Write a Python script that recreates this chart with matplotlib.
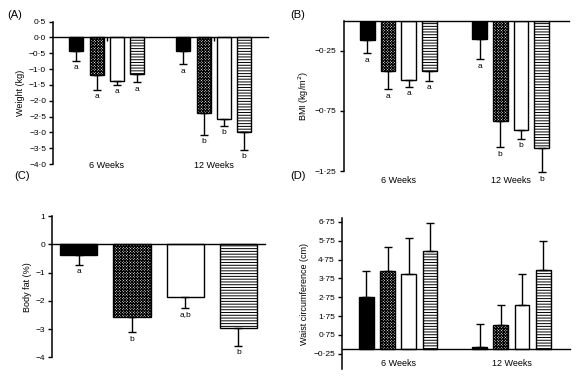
import numpy as np
import matplotlib
matplotlib.use("Agg")
import matplotlib.pyplot as plt

plt.rcParams['font.family'] = ['Liberation Sans', 'DejaVu Sans']
plt.rcParams['hatch.linewidth'] = 0.7

# datos (4 grupos por periodo)
grupos = ["6 Weeks", "12 Weeks"]

peso_media = [[-0.43, -1.20, -1.36, -1.15], [-0.42, -2.39, -2.59, -2.98]]
peso_err = [[0.30, 0.45, 0.14, 0.27], [0.43, 0.68, 0.20, 0.57]]
peso_letras = [["a", "a", "a", "a"], ["a", "b", "b", "b"]]
peso_ticks = [0.5, 0.0, -0.5, -1.0, -1.5, -2.0, -2.5, -3.0, -3.5, -4.0]
peso_ticklabels = ["0·5", "0·0", "−0·5", "−1·0", "−1·5", "−2·0", "−2·5", "−3·0", "−3·5", "−4·0"]

imc_media = [[-0.16, -0.42, -0.49, -0.42], [-0.15, -0.83, -0.91, -1.06]]
imc_err = [[0.11, 0.15, 0.06, 0.08], [0.17, 0.22, 0.07, 0.20]]
imc_letras = [["a", "a", "a", "a"], ["a", "b", "b", "b"]]
imc_ticks = [-0.25, -0.75, -1.25]
imc_ticklabels = ["−0·25", "−0·75", "−1·25"]

grasa_media = [-0.37, -2.59, -1.86, -2.96]
grasa_err = [0.35, 0.52, 0.38, 0.63]
grasa_letras = ["a", "b", "a,b", "b"]
grasa_ticks = [1, 0, -1, -2, -3, -4]
grasa_ticklabels = ["1", "0", "−1", "−2", "−3", "−4"]

cintura_media = [[2.74, 4.12, 3.96, 5.18], [0.12, 1.26, 2.33, 4.17]]
cintura_err = [[1.40, 1.30, 1.91, 1.52], [1.21, 1.07, 1.63, 1.57]]
cintura_ticks = [6.75, 5.75, 4.75, 3.75, 2.75, 1.75, 0.75, -0.25]
cintura_ticklabels = ["6·75", "5·75", "4·75", "3·75", "2·75", "1·75", "0·75", "−0·25"]

# estilos de las barras
colores = ["black", "white", "white", "white"]
tramas = [None, "xxxxxxxxxxxx", None, "------"]

fig = plt.figure(figsize=(5.84, 3.87), dpi=100)

fs_tick = 6
fs_lab = 6.5


def estilo(ax, ticks, ticklabels, ylim):
    ax.set_ylim(ylim)
    ax.set_yticks(ticks)
    ax.set_yticklabels(ticklabels, fontsize=fs_tick)
    ax.spines['top'].set_visible(False)
    ax.spines['right'].set_visible(False)
    ax.spines['left'].set_linewidth(1.1)
    ax.spines['left'].set_bounds(min(ticks), max(ticks))
    ax.spines['bottom'].set_position(('data', 0))
    ax.spines['bottom'].set_linewidth(1.0)
    ax.tick_params(axis='y', direction='out', length=3, width=1, pad=2)
    ax.tick_params(axis='x', length=0, labelbottom=False)
    ax.set_facecolor('none')


def barras(ax, xs, medias, errores, letras=None):
    for i, (x, m, e) in enumerate(zip(xs, medias, errores)):
        ax.bar(x, m, width=0.7, color=colores[i], edgecolor="black",
               linewidth=1.0, hatch=tramas[i], zorder=2)
        signo = 1 if m > 0 else -1
        ax.errorbar(x, m, yerr=[[e], [0]] if signo < 0 else [[0], [e]],
                    fmt='none', ecolor='black', elinewidth=1.0,
                    capsize=3, capthick=1.0, zorder=3, clip_on=False)
        if letras is not None:
            ax.annotate(letras[i], (x, m - e), xytext=(0, -2.5),
                        textcoords='offset points', ha='center', va='top',
                        fontsize=fs_tick, annotation_clip=False)


# (A) peso
axA = fig.add_axes([0.0908, 0.576, 0.368, 0.368])
estilo(axA, peso_ticks, peso_ticklabels, (-4.0, 0.5))
centrosA = [2.65, 7.93]
for g in range(2):
    xs = [centrosA[g] + (i - 1.5) for i in range(4)]
    barras(axA, xs, peso_media[g], peso_err[g], peso_letras[g])
    axA.text(centrosA[g], -4.04, grupos[g], ha='center', va='center', fontsize=fs_lab)
axA.set_xlim(0, 10.6)
axA.set_xticks(centrosA)
axA.tick_params(axis='x', length=3, width=1, direction='out')
axA.set_ylabel("Weight (kg)", fontsize=fs_lab, labelpad=3)

# (B) IMC
axB = fig.add_axes([0.5885, 0.558, 0.385, 0.388])
estilo(axB, imc_ticks, imc_ticklabels, (-1.25, 0))
axB.spines['left'].set_bounds(-1.25, 0)
centrosB = [2.64, 8.07]
for g in range(2):
    xs = [centrosB[g] + (i - 1.5) for i in range(4)]
    barras(axB, xs, imc_media[g], imc_err[g], imc_letras[g])
    axB.text(centrosB[g], -1.325, grupos[g], ha='center', va='center', fontsize=fs_lab)
axB.set_xlim(0, 10.87)
axB.set_ylabel("BMI (kg/m$^2$)", fontsize=fs_lab, labelpad=3)

# (C) grasa corporal
axC = fig.add_axes([0.0896, 0.0767, 0.364, 0.365])
estilo(axC, grasa_ticks, grasa_ticklabels, (-4, 1))
barras(axC, [0.5, 1.5, 2.5, 3.5], grasa_media, grasa_err, grasa_letras)
axC.set_xlim(0, 4.0)
axC.set_ylabel("Body fat (%)", fontsize=fs_lab, labelpad=3)

# (D) cintura
axD = fig.add_axes([0.5856, 0.0465, 0.39, 0.389])
estilo(axD, cintura_ticks, cintura_ticklabels, (-1.06, 6.93))
axD.spines['left'].set_bounds(-1.06, 6.93)
centrosD = [2.65, 8.0]
for g in range(2):
    xs = [centrosD[g] + (i - 1.5) for i in range(4)]
    barras(axD, xs, cintura_media[g], cintura_err[g])
    axD.text(centrosD[g], -0.76, grupos[g], ha='center', va='center', fontsize=fs_lab)
axD.set_xlim(0, 10.75)
axD.set_ylabel("Waist circumference (cm)", fontsize=fs_lab, labelpad=3)

# letras de los paneles
fig.text(0.012, 0.96, "(A)", fontsize=8, va='center')
fig.text(0.497, 0.96, "(B)", fontsize=8, va='center')
fig.text(0.024, 0.545, "(C)", fontsize=8, va='center')
fig.text(0.497, 0.545, "(D)", fontsize=8, va='center')

fig.savefig("out.png", dpi=100)
